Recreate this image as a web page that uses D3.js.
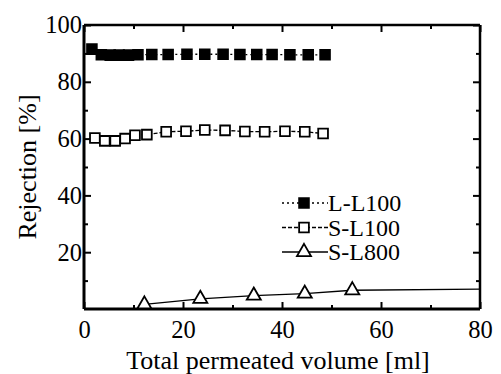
<!DOCTYPE html>
<html>
<head>
<meta charset="utf-8">
<script src="https://cdn.jsdelivr.net/npm/d3@7"></script>
<style>
  body { margin: 0; background: #fff; }
  svg { display: block; }
</style>
</head>
<body>
<div id="chart"></div>
<script>
var WIDTH = 501, HEIGHT = 374;
var margin = {top: 25, right: 21, bottom: 65, left: 84};
var FONT = "Liberation Serif";

// L-L100 (filled squares, dotted line)
var llx = [1.6, 3.5, 5.3, 7.1, 9.0, 10.9, 13.7, 17.0, 20.8, 24.4, 28.1, 31.5, 34.9, 38.0, 41.6, 45.3, 48.7];
var lly = [91.5, 89.5, 89.4, 89.4, 89.4, 89.5, 89.6, 89.6, 89.7, 89.7, 89.7, 89.6, 89.6, 89.6, 89.5, 89.5, 89.5];

// S-L100 (open squares, dashed line)
var slx = [2.2, 4.2, 6.3, 8.3, 10.3, 12.7, 16.6, 20.6, 24.4, 28.5, 32.5, 36.5, 40.6, 44.6, 48.3];
var sly = [60.2, 59.2, 59.2, 60.0, 61.2, 61.4, 62.4, 62.6, 63.0, 62.9, 62.5, 62.4, 62.6, 62.4, 61.8];

// S-L800 (open triangles, solid line)
var s8x = [12.2, 23.5, 34.3, 44.6, 54.2, 85];
var s8y = [1.6, 3.6, 4.7, 5.4, 6.6, 7.1];

var xTicks = [0, 20, 40, 60, 80];
var yTicks = [20, 40, 60, 80, 100];
var legendNames = ["L-L100", "S-L100", "S-L800"];

var w = WIDTH - margin.left - margin.right;
var h = HEIGHT - margin.top - margin.bottom;

var svg = d3.select("#chart").append("svg")
    .attr("width", WIDTH)
    .attr("height", HEIGHT);

var x = d3.scaleLinear().domain([0, 80]).range([0, w]);
var y = d3.scaleLinear().domain([0, 100]).range([h, 0]);

svg.append("defs").append("clipPath").attr("id", "clip")
  .append("rect").attr("width", w).attr("height", h);

var g = svg.append("g")
    .attr("transform", "translate(" + margin.left + "," + margin.top + ")");

// axes: major + minor ticks pointing inward, on all four sides
function styleAxis(sel) {
  sel.attr("font-family", FONT).attr("font-size", 24.5);
  sel.select(".domain").remove();
  sel.selectAll(".tick line").attr("stroke", "#000").attr("stroke-width", 2);
  sel.selectAll(".tick text").attr("fill", "#000");
}
var minorX = d3.range(10, 80, 20), minorY = d3.range(10, 100, 20);

g.append("g").attr("transform", "translate(0," + h + ")")
  .call(d3.axisBottom(x).tickValues(xTicks).tickSize(-7).tickPadding(12).tickFormat(d3.format("d")))
  .call(styleAxis);
g.append("g").attr("transform", "translate(0," + h + ")")
  .call(d3.axisBottom(x).tickValues(minorX).tickSize(-4).tickFormat(""))
  .call(styleAxis);
g.append("g")
  .call(d3.axisTop(x).tickValues(xTicks).tickSize(-7).tickFormat(""))
  .call(styleAxis);
g.append("g")
  .call(d3.axisTop(x).tickValues(minorX).tickSize(-4).tickFormat(""))
  .call(styleAxis);

g.append("g")
  .call(d3.axisLeft(y).tickValues(yTicks).tickSize(-7).tickPadding(2).tickFormat(d3.format("d")))
  .call(styleAxis);
g.append("g")
  .call(d3.axisLeft(y).tickValues(minorY).tickSize(-4).tickFormat(""))
  .call(styleAxis);
g.append("g").attr("transform", "translate(" + w + ",0)")
  .call(d3.axisRight(y).tickValues(yTicks).tickSize(-7).tickFormat(""))
  .call(styleAxis);
g.append("g").attr("transform", "translate(" + w + ",0)")
  .call(d3.axisRight(y).tickValues(minorY).tickSize(-4).tickFormat(""))
  .call(styleAxis);

// frame
g.append("line").attr("x1", 0).attr("x2", w).attr("y1", 0).attr("y2", 0)
  .attr("stroke", "#000").attr("stroke-width", 2.5);
g.append("line").attr("x1", w).attr("x2", w).attr("y1", 0).attr("y2", h)
  .attr("stroke", "#000").attr("stroke-width", 2.5);
g.append("line").attr("x1", 0).attr("x2", w).attr("y1", h).attr("y2", h)
  .attr("stroke", "#000").attr("stroke-width", 3);
g.append("line").attr("x1", 0).attr("x2", 0).attr("y1", 0).attr("y2", h)
  .attr("stroke", "#000").attr("stroke-width", 3);

// series
var series = [
  {name: legendNames[0], xs: llx, ys: lly, dash: "2,3", shape: "square", fill: "#000"},
  {name: legendNames[1], xs: slx, ys: sly, dash: "4,2", shape: "square", fill: "#fff"},
  {name: legendNames[2], xs: s8x, ys: s8y, dash: null, shape: "triangle", fill: "#fff"}
];

var line = d3.line().x(function(d) { return x(d[0]); }).y(function(d) { return y(d[1]); });
var sqSym = d3.symbol().type(d3.symbolSquare).size(95);
var triSym = d3.symbol().type(d3.symbolTriangle).size(85);

var plot = g.append("g").attr("clip-path", "url(#clip)");

series.forEach(function(s) {
  var pts = d3.zip(s.xs, s.ys);
  plot.append("path")
    .datum(pts)
    .attr("d", line)
    .attr("fill", "none")
    .attr("stroke", "#000")
    .attr("stroke-width", 1.3)
    .attr("stroke-dasharray", s.dash);
  plot.selectAll(null)
    .data(pts)
    .enter().append("path")
    .attr("d", s.shape === "square" ? sqSym : triSym)
    .attr("transform", function(d) { return "translate(" + x(d[0]) + "," + y(d[1]) + ")"; })
    .attr("fill", s.fill)
    .attr("stroke", "#000")
    .attr("stroke-width", 1.8);
});

// legend
var legend = g.append("g").attr("transform", "translate(198,178)");
series.forEach(function(s, i) {
  var row = legend.append("g").attr("transform", "translate(0," + (i * 24.5) + ")");
  row.append("line")
    .attr("x1", 0).attr("x2", 46).attr("y1", 0).attr("y2", 0)
    .attr("stroke", "#000").attr("stroke-width", 1.3)
    .attr("stroke-dasharray", s.dash);
  row.append("path")
    .attr("d", s.shape === "square" ? sqSym : triSym)
    .attr("transform", "translate(22,0)")
    .attr("fill", s.fill)
    .attr("stroke", "#000")
    .attr("stroke-width", 1.8);
  row.append("text")
    .attr("x", 46).attr("y", 0).attr("dy", "0.35em")
    .attr("font-family", FONT)
    .attr("font-size", 24)
    .text(s.name);
});

// axis titles
svg.append("text")
  .attr("x", margin.left + w / 2 - 4).attr("y", 369)
  .attr("text-anchor", "middle")
  .attr("font-family", FONT)
  .attr("font-size", 26)
  .text("Total permeated volume [ml]");
svg.append("text")
  .attr("transform", "translate(36," + (margin.top + 142) + ") rotate(-90)")
  .attr("text-anchor", "middle")
  .attr("font-family", FONT)
  .attr("font-size", 26)
  .text("Rejection [%]");
</script>
</body>
</html>
